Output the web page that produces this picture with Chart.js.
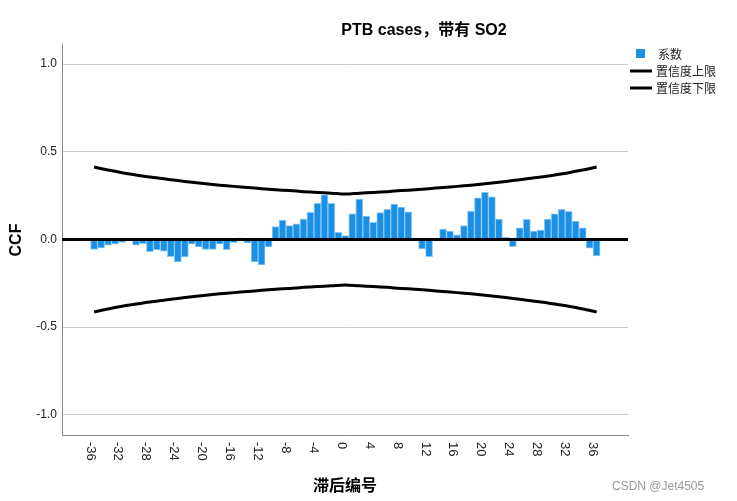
<!DOCTYPE html>
<html>
<head>
<meta charset="utf-8">
<script src="https://cdn.jsdelivr.net/npm/chart.js@4.4.0/dist/chart.umd.min.js"></script>
<style>
  html, body { margin: 0; padding: 0; background: #fff; }
  #wrap { width: 737px; height: 501px; position: relative; }
</style>
</head>
<body>
<div id="wrap"><canvas id="ccfChart"></canvas></div>
<script>
// lags (滞后编号)
var lags = [-36,-35,-34,-33,-32,-31,-30,-29,-28,-27,-26,-25,-24,-23,-22,-21,-20,-19,-18,-17,-16,-15,-14,-13,-12,-11,-10,-9,-8,-7,-6,-5,-4,-3,-2,-1,
            0,1,2,3,4,5,6,7,8,9,10,11,12,13,14,15,16,17,18,19,20,21,22,23,24,25,26,27,28,29,30,31,32,33,34,35,36];
// 系数 (CCF)
var coefficients = [-0.056,-0.048,-0.033,-0.026,-0.016,-0.002,-0.033,-0.024,-0.069,-0.060,-0.066,-0.098,-0.128,-0.100,-0.027,-0.043,-0.056,-0.056,-0.027,-0.058,-0.018,0.010,-0.020,-0.128,-0.145,-0.043,
                    0.073,0.111,0.079,0.090,0.117,0.155,0.206,0.255,0.206,0.041,0.022,0.147,0.231,0.134,0.098,0.153,0.172,0.202,0.185,0.158,0.002,-0.054,-0.098,-0.004,
                    0.060,0.048,0.026,0.079,0.162,0.238,0.269,0.244,0.117,0.012,-0.041,0.067,0.115,0.048,0.054,0.117,0.147,0.172,0.161,0.105,0.066,-0.050,-0.094];
// confidence limits, read every 2 lags
var limitLags = [-36,-34,-32,-30,-28,-26,-24,-22,-20,-18,-16,-14,-12,-10,-8,-6,-4,-2,0,2,4,6,8,10,12,14,16,18,20,22,24,26,28,30,32,34,36];
var upperLimit = [0.413,0.396,0.381,0.368,0.356,0.346,0.336,0.327,0.318,0.310,0.303,0.297,0.290,0.284,0.279,0.273,0.268,0.264,0.259,
                  0.264,0.268,0.273,0.279,0.284,0.290,0.297,0.303,0.310,0.318,0.327,0.336,0.346,0.356,0.368,0.381,0.396,0.413];
var lowerLimit = [-0.413,-0.396,-0.381,-0.368,-0.356,-0.346,-0.336,-0.327,-0.318,-0.310,-0.303,-0.297,-0.290,-0.284,-0.279,-0.273,-0.268,-0.264,-0.259,
                  -0.264,-0.268,-0.273,-0.279,-0.284,-0.290,-0.297,-0.303,-0.310,-0.318,-0.327,-0.336,-0.346,-0.356,-0.368,-0.381,-0.396,-0.413];
var xTicks = [-36,-32,-28,-24,-20,-16,-12,-8,-4,0,4,8,12,16,20,24,28,32,36];
var yTicks = [-1.0,-0.5,0.0,0.5,1.0];

var barBlue = '#1a8fe6';
var FONT = '"Liberation Sans", Arial, "Noto Sans CJK SC", sans-serif';

function pairs(xs, ys) {
    return xs.map(function(x, i) { return { x: x, y: ys[i] }; });
}

// zero line, rotated x tick labels, titles, legend
var decorPlugin = {
    id: 'decor',
    afterDatasetsDraw: function(chart) {
        var c = chart.ctx, a = chart.chartArea;
        var ys = chart.scales.y;
        c.save();
        var y0 = ys.getPixelForValue(0);
        c.strokeStyle = '#000';
        c.lineWidth = 3;
        c.beginPath();
        c.moveTo(a.left, y0);
        c.lineTo(a.right, y0);
        c.stroke();
        c.restore();
    },
    afterDraw: function(chart) {
        var c = chart.ctx, a = chart.chartArea;
        var xs = chart.scales.x;
        c.save();
        c.fillStyle = '#222';
        c.font = '13px ' + FONT;
        c.textAlign = 'left';
        c.textBaseline = 'middle';
        xTicks.forEach(function(t) {
            var px = xs.getPixelForValue(t) - 4;
            c.save();
            c.translate(px, a.bottom + 7);
            c.rotate(Math.PI / 2);
            c.fillText(String(t), 0, 0);
            c.restore();
        });

        c.fillStyle = '#000';
        c.font = 'bold 16px ' + FONT;
        c.textAlign = 'center';
        c.fillText('PTB cases，带有 SO2', 424, 31);
        c.fillText('滞后编号', 345, 487);
        c.save();
        c.translate(17, 240);
        c.rotate(-Math.PI / 2);
        c.fillText('CCF', 0, 0);
        c.restore();

        // legend
        c.font = '12px ' + FONT;
        c.textAlign = 'left';
        c.fillStyle = barBlue;
        c.fillRect(636, 49, 9, 9);
        c.strokeStyle = '#000';
        c.lineWidth = 3;
        [71, 88].forEach(function(ly) {
            c.beginPath();
            c.moveTo(630, ly);
            c.lineTo(652, ly);
            c.stroke();
        });
        c.fillStyle = '#222';
        c.fillText('系数', 658, 56);
        c.fillText('置信度上限', 656, 73);
        c.fillText('置信度下限', 656, 90);

        c.fillStyle = '#999';
        c.fillText('CSDN @Jet4505', 612, 487);
        c.restore();
    }
};

document.addEventListener('DOMContentLoaded', function() {
    var ctx = document.getElementById('ccfChart').getContext('2d');
    var ccfChart = new Chart(ctx, {
        type: 'bar',
        data: {
            datasets: [{
                type: 'line',
                label: '置信度上限',
                data: pairs(limitLags, upperLimit),
                borderColor: '#000',
                borderWidth: 3,
                pointRadius: 0,
                tension: 0.3,
                fill: false,
                order: 0
            }, {
                type: 'line',
                label: '置信度下限',
                data: pairs(limitLags, lowerLimit),
                borderColor: '#000',
                borderWidth: 3,
                pointRadius: 0,
                tension: 0.3,
                fill: false,
                order: 0
            }, {
                label: '系数',
                data: pairs(lags, coefficients),
                backgroundColor: barBlue,
                borderColor: '#8ec9f3',
                borderWidth: 1,
                borderSkipped: false,
                barPercentage: 1,
                categoryPercentage: 1,
                order: 1
            }]
        },
        options: {
            responsive: true,
            maintainAspectRatio: false,
            animation: false,
            layout: { padding: { left: 0, right: 109, top: 44, bottom: 0 } },
            plugins: {
                legend: { display: false },
                title: { display: false },
                tooltip: { enabled: false }
            },
            scales: {
                x: {
                    type: 'linear',
                    offset: false,
                    bounds: 'data',
                    min: -40.6,
                    max: 40.5,
                    grid: { display: false },
                    border: { display: true, color: '#8a8a8a', width: 1 },
                    ticks: { display: false },
                    afterFit: function(s) { s.height = 66; }
                },
                y: {
                    min: -1.115,
                    max: 1.115,
                    afterBuildTicks: function(s) {
                        s.ticks = yTicks.map(function(v) { return { value: v }; });
                    },
                    grid: {
                        drawTicks: false,
                        color: function(c) { return c.tick && c.tick.value === 0 ? 'rgba(0,0,0,0)' : '#cccccc'; }
                    },
                    border: { display: true, color: '#8a8a8a', width: 1 },
                    ticks: {
                        padding: 5,
                        color: '#222',
                        font: { size: 12, family: FONT },
                        callback: function(v) { return Number(v).toFixed(1); }
                    },
                    afterFit: function(s) { s.width = 62; }
                }
            }
        },
        plugins: [decorPlugin]
    });
});
</script>
</body>
</html>
